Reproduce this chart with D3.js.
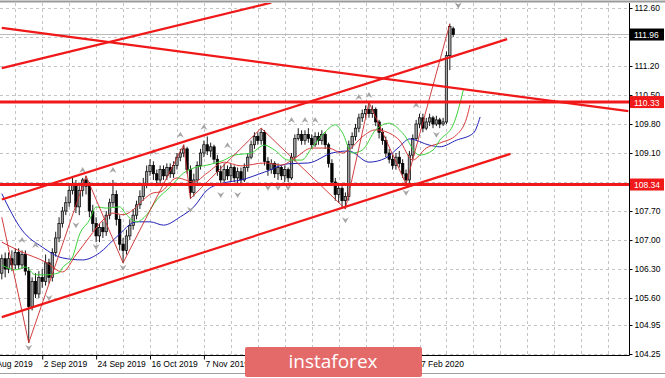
<!DOCTYPE html>
<html>
<head>
<meta charset="utf-8">
<script src="https://cdn.jsdelivr.net/npm/d3@7"></script>
<style>
body { margin: 0; background: #fff; }
svg { display: block; font-family: "Liberation Sans", Arial, sans-serif; }
</style>
</head>
<body>
<script>
// daily bars, index 0 = first bar on the left
var opens  = [106.20,106.55,106.30,106.55,106.40,106.70,106.40,106.65,106.25,105.40,
              106.00,105.70,106.10,106.00,106.45,106.10,106.70,107.05,107.40,107.70,
              107.90,108.20,108.35,107.80,108.20,108.45,108.30,107.70,107.40,107.10,
              107.30,107.20,107.60,107.90,108.10,107.50,106.90,106.75,107.10,107.35,
              107.60,107.85,108.05,108.35,108.65,108.80,108.60,108.45,108.70,108.55,
              108.75,108.60,108.80,109.00,109.10,109.20,108.70,108.15,108.45,108.80,
              109.10,109.30,109.15,109.25,108.95,108.65,108.45,108.70,108.55,108.75,
              108.50,108.65,108.45,108.75,109.00,109.30,109.50,109.40,109.60,108.90,
              108.70,108.85,108.60,108.75,108.55,108.70,108.50,109.00,109.45,109.55,
              109.40,109.55,109.45,109.30,109.50,109.40,109.55,109.30,108.85,108.40,
              108.10,108.25,107.95,108.05,109.30,109.50,109.70,109.95,110.05,110.15,
              110.05,110.15,109.85,109.60,109.40,109.10,108.95,108.80,109.00,108.85,
              108.60,108.45,109.05,109.45,109.80,109.95,109.70,109.85,109.95,109.80,
              109.90,109.80,109.85,111.45,112.10];
var highs  = [106.65,106.70,106.70,106.75,106.80,106.80,106.75,106.75,106.35,106.10,
              106.20,106.25,106.30,106.65,106.55,106.80,107.20,107.55,107.80,108.05,
              108.35,108.50,108.45,108.30,108.50,108.55,108.40,107.85,107.55,107.40,
              107.45,107.70,108.00,108.45,108.20,107.60,107.05,107.25,107.50,107.75,
              107.95,108.20,108.50,108.80,108.95,108.90,108.70,108.80,108.80,108.85,
              108.85,108.90,109.10,109.20,109.30,109.25,108.80,108.60,108.90,109.20,
              109.40,109.50,109.35,109.30,109.05,108.80,108.85,108.80,108.85,108.80,
              108.75,108.75,108.85,109.10,109.40,109.60,109.60,109.70,109.65,109.00,
              108.95,108.90,108.85,108.80,108.80,108.75,109.10,109.55,109.70,109.65,
              109.65,109.70,109.55,109.60,109.60,109.65,109.60,109.35,108.95,108.50,
              108.35,108.30,108.15,109.40,109.60,109.80,110.05,110.15,110.25,110.32,
              110.25,110.20,109.90,109.70,109.50,109.20,109.05,109.10,109.15,108.95,
              108.70,109.15,109.55,109.90,110.05,110.05,109.95,110.05,110.00,110.00,
              109.95,109.95,111.55,112.22,112.15];
var lows   = [106.05,106.10,106.20,106.25,106.30,106.30,106.30,106.15,104.52,105.30,
              105.60,105.60,105.85,105.90,105.95,106.00,106.60,106.95,107.30,107.60,
              107.80,108.10,107.65,107.60,108.05,108.10,107.55,107.20,106.95,106.95,
              107.05,107.10,107.50,107.80,107.35,106.75,106.45,106.65,107.00,107.25,
              107.50,107.75,107.95,108.25,108.55,108.45,108.30,108.35,108.45,108.45,
              108.50,108.50,108.70,108.90,109.00,108.60,108.00,108.05,108.35,108.70,
              109.00,109.05,109.00,108.85,108.55,108.30,108.40,108.45,108.40,108.40,
              108.35,108.30,108.40,108.65,108.95,109.20,109.30,109.30,108.80,108.55,
              108.60,108.50,108.45,108.45,108.40,108.40,108.45,108.90,109.40,109.30,
              109.30,109.35,109.20,109.25,109.30,109.30,109.20,108.75,108.30,107.95,
              107.90,107.80,107.75,107.95,109.20,109.40,109.60,109.85,109.95,109.95,
              109.95,109.75,109.45,109.30,109.00,108.85,108.70,108.70,108.75,108.50,
              108.35,108.38,108.95,109.40,109.70,109.60,109.65,109.75,109.70,109.75,
              109.70,109.75,109.80,111.10,111.90];
var closes = [106.55,106.30,106.55,106.40,106.70,106.40,106.65,106.25,105.40,106.00,
              105.70,106.10,106.00,106.45,106.10,106.70,107.05,107.40,107.70,107.90,
              108.20,108.35,107.80,108.20,108.45,108.30,107.70,107.40,107.10,107.30,
              107.20,107.60,107.90,108.10,107.50,106.90,106.75,107.10,107.35,107.60,
              107.85,108.05,108.35,108.65,108.80,108.60,108.45,108.70,108.55,108.75,
              108.60,108.80,109.00,109.10,109.20,108.70,108.15,108.45,108.80,109.10,
              109.30,109.15,109.25,108.95,108.65,108.45,108.70,108.55,108.75,108.50,
              108.65,108.45,108.75,109.00,109.30,109.50,109.40,109.60,108.90,108.70,
              108.85,108.60,108.75,108.55,108.70,108.50,109.00,109.45,109.55,109.40,
              109.55,109.45,109.30,109.50,109.40,109.55,109.30,108.85,108.40,108.10,
              108.25,107.95,108.05,109.30,109.50,109.70,109.95,110.05,110.15,110.05,
              110.15,109.85,109.60,109.40,109.10,108.95,108.80,109.00,108.85,108.60,
              108.45,109.05,109.45,109.80,109.95,109.70,109.85,109.95,109.80,109.90,
              109.80,109.85,111.45,112.15,111.96];

// alligator lines: [bar, price]
var jaw = [[0,108.12],[6,107.24],[12,106.83],[18,106.57],[24,106.52],[29,106.69],[34,107.07],
           [40,107.44],[44,107.44],[48,107.36],[53,107.56],[57,107.80],[61,108.21],[66,108.38],
           [71,108.45],[78,108.64],[85,108.84],[91,108.86],[98,109.10],[103,109.15],[109,108.88],
           [114,108.98],[118,109.25],[121,109.44],[127,109.29],[130,109.25],[135,109.41],
           [140,109.58],[142,109.97]];
var teeth = [[0,106.95],[6,106.71],[13,106.47],[18,106.23],[22,106.64],[26,107.07],[30,107.48],
             [33,107.65],[36,107.61],[39,107.73],[42,107.97],[45,108.14],[47,108.16],[52,108.50],
             [57,108.40],[61,108.62],[66,108.88],[71,108.79],[78,108.86],[83,108.81],[87,108.98],
             [92,109.22],[97,109.22],[101,109.10],[103,109.17],[107,109.49],[111,109.66],
             [116,109.54],[118,109.41],[122,108.93],[126,109.22],[130,109.34],[135,109.54],
             [138,109.95],[139,110.26]];
var lips = [[0,106.40],[4,106.28],[7,106.35],[10,106.16],[13,106.16],[17,106.21],[18,106.33],
            [21,106.59],[23,107.12],[26,107.48],[28,107.80],[31,107.77],[35,107.80],[37,107.61],
            [40,107.44],[43,107.61],[46,107.97],[50,108.28],[54,108.62],[57,108.74],[61,108.81],
            [66,108.93],[69,109.05],[74,109.10],[78,109.29],[81,109.17],[85,108.93],[89,108.93],
            [92,109.22],[96,109.61],[99,109.78],[101,109.61],[104,109.10],[107,109.17],
            [111,109.66],[115,109.82],[119,109.58],[124,109.05],[128,109.17],[130,109.41],
            [134,109.78],[137,110.62]];

// zigzag turning points: [bar, price]
var zigzag = [[0,107.55],[8,104.52],[25,108.55],[36,106.45],[54,109.30],[56,108.00],
              [77,109.70],[102,107.75],[109,110.32],[120,108.35],[133,112.22]];

// fractal arrows: [bar, price]
var fractalsUp = [[6,107.00],[10,106.88],[24,108.69],[33,108.69],[45,109.13],[53,109.54],
                  [60,109.73],[67,109.29],[86,109.90],[90,109.90],[93,109.90],[106,110.45],
                  [109,110.50],[123,110.26]];
var fractalsDown = [[8,104.40],[14,105.60],[22,107.36],[28,106.83],[36,106.33],[56,107.73],
                    [65,108.09],[70,108.09],[79,108.26],[82,108.26],[85,108.26],[102,107.48],
                    [120,108.14],[129,109.54]];

// hand drawn trend lines: [bar1, price1, bar2, price2]
var trendLines = [[0,111.15,80,112.73],
                  [0,112.12,186,110.11],
                  [0,107.98,150,111.85],
                  [0,105.14,151,109.08]];
var levels = [110.33, 108.34];
var lastPrice = 111.96;

// grid levels; two of them have their labels covered by the price boxes
var gridPrices = [112.60,111.90,111.20,110.50,109.80,109.10,108.40,107.70,107.00,106.30,105.60,104.95,104.25];
var priceLabels = [112.60,111.20,110.50,109.80,109.10,107.70,107.00,106.30,105.60,104.95,104.25];
// date labels that are not under the watermark
var dateBars = [-4,12,28,44,60,124];
var dateLabels = ["9 Aug 2019","2 Sep 2019","24 Sep 2019","16 Oct 2019","7 Nov 2019","7 Feb 2020"];

var W = 665, H = 378;
var plotR = 629, plotT = 3, plotB = 355;

var svg = d3.select("body").append("svg")
    .attr("width", W)
    .attr("height", H);

var x = d3.scaleLinear().domain([0, 134]).range([1.8, 453.2]);
var y = d3.scaleLinear().domain([104.25, 112.60]).range([354, 8]);

svg.append("clipPath").attr("id", "plot")
  .append("rect").attr("x", 0).attr("y", plotT).attr("width", plotR).attr("height", plotB - plotT);

var g = svg.append("g").attr("clip-path", "url(#plot)");

// grid
var gridBars = d3.range(-4, 190, 8);
g.selectAll(".vg").data(gridBars).enter().append("line")
    .attr("x1", d => Math.round(x(d)) + 0.5).attr("x2", d => Math.round(x(d)) + 0.5)
    .attr("y1", plotT).attr("y2", plotB)
    .attr("stroke", "#c4c4c4").attr("stroke-dasharray", "3,3");
g.selectAll(".hg").data(gridPrices).enter().append("line")
    .attr("x1", 0).attr("x2", plotR)
    .attr("y1", d => Math.round(y(d)) + 0.5).attr("y2", d => Math.round(y(d)) + 0.5)
    .attr("stroke", "#c4c4c4").attr("stroke-dasharray", "3,3");

// bid line
g.append("line")
    .attr("x1", 0).attr("x2", plotR)
    .attr("y1", y(lastPrice)).attr("y2", y(lastPrice))
    .attr("stroke", "#b8b8b8");

// candles
var bars = d3.range(closes.length);
g.selectAll(".wick").data(bars).enter().append("line")
    .attr("x1", i => x(i)).attr("x2", i => x(i))
    .attr("y1", i => y(highs[i])).attr("y2", i => y(lows[i]))
    .attr("stroke", "#000").attr("stroke-width", 0.9);
g.selectAll(".body").data(bars).enter().append("rect")
    .attr("x", i => x(i) - 1.2)
    .attr("width", 2.4)
    .attr("y", i => y(Math.max(opens[i], closes[i])))
    .attr("height", i => Math.max(1, Math.abs(y(opens[i]) - y(closes[i]))))
    .attr("fill", i => closes[i] >= opens[i] ? "#a0a0a0" : "#000")
    .attr("stroke", "#000").attr("stroke-width", 0.7);

// alligator
var line = d3.line().x(d => x(d[0])).y(d => y(d[1])).curve(d3.curveMonotoneX);
g.append("path").attr("d", line(jaw)).attr("fill", "none").attr("stroke", "#2020b8").attr("stroke-width", 1);
g.append("path").attr("d", line(teeth)).attr("fill", "none").attr("stroke", "#d83a3a").attr("stroke-width", 1);
g.append("path").attr("d", line(lips)).attr("fill", "none").attr("stroke", "#3ad23a").attr("stroke-width", 1);

// zigzag
var zz = d3.line().x(d => x(d[0])).y(d => y(d[1]));
g.append("path").attr("d", zz(zigzag)).attr("fill", "none").attr("stroke", "#cc2a2a").attr("stroke-width", 0.9);

// fractal arrows
function arrow(cx, cy, dir) {
  var s = dir;  // -1 points up, 1 points down
  return "M" + (cx - 3.5) + "," + (cy - 3 * s) + "L" + cx + "," + (cy + 3 * s) +
         "L" + (cx + 3.5) + "," + (cy - 3 * s) + "L" + cx + "," + (cy - 1 * s) + "Z";
}
g.selectAll(".fu").data(fractalsUp).enter().append("path")
    .attr("d", d => arrow(x(d[0]), y(d[1]), -1)).attr("fill", "#a6a6a6");
g.selectAll(".fd").data(fractalsDown).enter().append("path")
    .attr("d", d => arrow(x(d[0]), y(d[1]), 1)).attr("fill", "#a6a6a6");

// trend lines and levels
g.selectAll(".tl").data(trendLines).enter().append("line")
    .attr("x1", d => x(d[0])).attr("y1", d => y(d[1]))
    .attr("x2", d => x(d[2])).attr("y2", d => y(d[3]))
    .attr("stroke", "#f01818").attr("stroke-width", 2.2);
g.selectAll(".lv").data(levels).enter().append("line")
    .attr("x1", 0).attr("x2", plotR)
    .attr("y1", d => y(d)).attr("y2", d => y(d))
    .attr("stroke", "#f01818").attr("stroke-width", 3);

// chart shift marker
svg.append("path")
    .attr("d", arrow(x(135.5), 5.5, 1)).attr("fill", "#9a9a9a");

// frame
svg.append("line").attr("x1", 0).attr("x2", W).attr("y1", 1.5).attr("y2", 1.5)
    .attr("stroke", "#9a9a9a").attr("stroke-width", 2);
svg.append("line").attr("x1", plotR + 0.5).attr("x2", plotR + 0.5).attr("y1", plotT).attr("y2", plotB + 0.5)
    .attr("stroke", "#000");
svg.append("line").attr("x1", 0).attr("x2", plotR + 0.5).attr("y1", plotB + 0.5).attr("y2", plotB + 0.5)
    .attr("stroke", "#000");
svg.append("line").attr("x1", 0).attr("x2", W).attr("y1", 373.5).attr("y2", 373.5)
    .attr("stroke", "#a0a0a0");

// price axis
var yAxis = d3.axisRight(y).tickValues(priceLabels).tickFormat(d3.format(".2f"))
    .tickSize(3).tickSizeOuter(0);
var ya = svg.append("g").attr("transform", "translate(" + (plotR + 0.5) + ",0)").call(yAxis);
ya.select(".domain").remove();
ya.selectAll("text").attr("x", 5).attr("font-size", 8.5).attr("font-family", "Liberation Sans, Arial, sans-serif").attr("fill", "#000");

// date axis
var xAxis = d3.axisBottom(x).tickValues(dateBars).tickFormat((d, i) => dateLabels[i])
    .tickSize(4).tickSizeOuter(0);
var xa = svg.append("g").attr("transform", "translate(0," + (plotB + 0.5) + ")").call(xAxis);
xa.select(".domain").remove();
xa.selectAll("text").attr("text-anchor", "start").attr("x", 1).attr("y", 5)
    .attr("font-size", 8.5).attr("font-family", "Liberation Sans, Arial, sans-serif").attr("fill", "#000");

// price boxes
var boxes = [[lastPrice, "#000"]].concat(levels.map(v => [v, "#f01818"]));
var bx = svg.selectAll(".box").data(boxes).enter().append("g");
bx.append("rect")
    .attr("x", plotR + 1).attr("y", d => y(d[0]) - 6)
    .attr("width", 34).attr("height", 12)
    .attr("fill", d => d[1]);
bx.append("text")
    .attr("x", plotR + 5).attr("y", d => y(d[0]) + 3.5)
    .attr("font-size", 8.5).attr("fill", "#fff")
    .text(d => d3.format(".2f")(d[0]));

// watermark
svg.append("rect").attr("x", 245).attr("y", 347).attr("width", 177).attr("height", 30)
    .attr("rx", 2).attr("fill", "#e46a6a");
svg.append("text").attr("x", 333).attr("y", 368).attr("text-anchor", "middle")
    .attr("font-family", "Open Sans, sans-serif").attr("font-size", 19).attr("fill", "#fff")
    .text("instaforex");
</script>
</body>
</html>
